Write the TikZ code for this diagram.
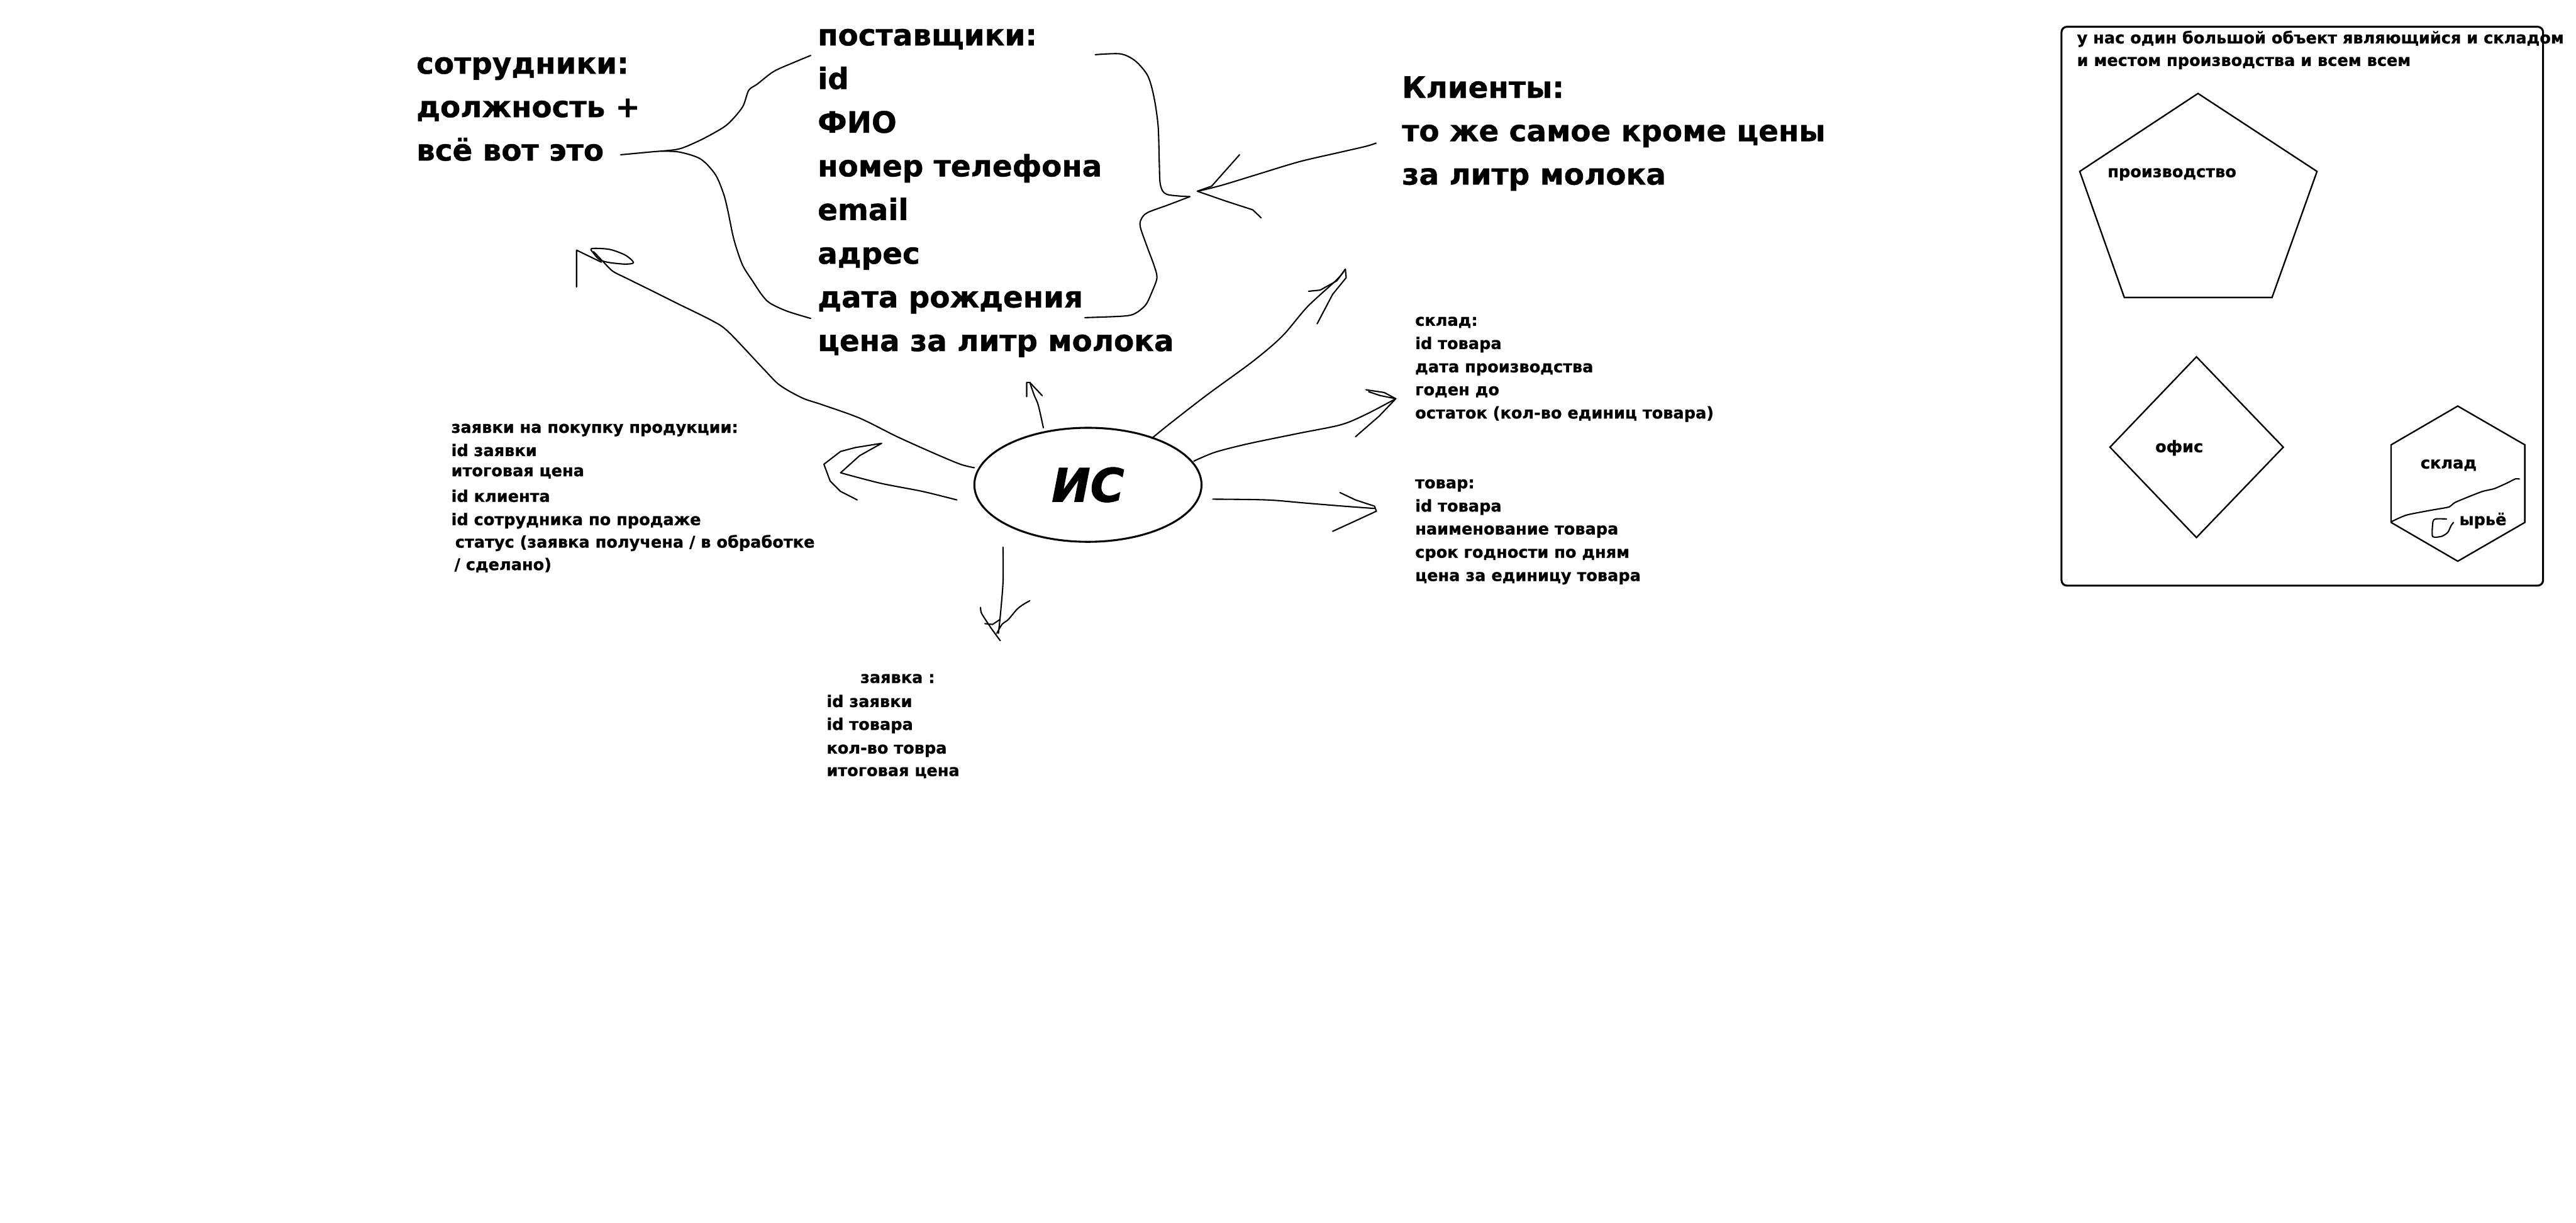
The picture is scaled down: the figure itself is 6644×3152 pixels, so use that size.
\documentclass[tikz,border=0pt]{standalone}
\usepackage{fontspec}
\setmainfont{DejaVu Sans}[BoldFeatures={FakeBold=0.8}]
\newfontfamily\heavyfont{DejaVu Sans}[BoldItalicFeatures={FakeBold=1.6}]
\usetikzlibrary{shapes.geometric}
\tikzset{
  txtbig/.style={anchor=base west, inner sep=0pt, font=\fontsize{7.6pt}{11.26pt}\selectfont\bfseries},
  txtsmall/.style={anchor=base west, inner sep=0pt, font=\fontsize{4.15pt}{6pt}\selectfont\bfseries},
  pen/.style={line width=0.34pt, line cap=round, line join=round},
  figline/.style={line width=0.38pt, line join=miter},
}
\begin{document}
\begin{tikzpicture}[x=0.1pt, y=-0.1pt]
\fill[white] (0,0) rectangle (6644,3152);
\useasboundingbox (0,0) rectangle (6644,3152);

% ---------- employees
\node[txtbig] (emp1) at (1072,190) {сотрудники:};
\node[txtbig] (emp2) at (1072,302) {должность +};
\node[txtbig] (emp3) at (1072,414) {всё вот это};

% ---------- suppliers
\node[txtbig] (sup1) at (2107,117) {поставщики:};
\node[txtbig] (sup2) at (2107,229.6) {id};
\node[txtbig] (sup3) at (2107,342.2) {ФИО};
\node[txtbig] (sup4) at (2107,454.8) {номер телефона};
\node[txtbig] (sup5) at (2107,567.4) {email};
\node[txtbig] (sup6) at (2107,680) {адрес};
\node[txtbig] (sup7) at (2107,792.6) {дата рождения};
\node[txtbig] (sup8) at (2107,905.2) {цена за литр молока};

% ---------- clients
\node[txtbig] (cli1) at (3614,252) {Клиенты:};
\node[txtbig] (cli2) at (3614,364) {то же самое кроме цены};
\node[txtbig] (cli3) at (3614,476) {за литр молока};

% ---------- warehouse
\node[txtsmall] (skl1) at (3648,840) {склад:};
\node[txtsmall] (skl2) at (3648,900) {id товара};
\node[txtsmall] (skl3) at (3648,960) {дата производства};
\node[txtsmall] (skl4) at (3648,1019) {годен до};
\node[txtsmall] (skl5) at (3648,1079) {остаток (кол-во единиц товара)};

% ---------- goods
\node[txtsmall] (tov1) at (3648,1259) {товар:};
\node[txtsmall] (tov2) at (3648,1319) {id товара};
\node[txtsmall] (tov3) at (3648,1378) {наименование товара};
\node[txtsmall] (tov4) at (3648,1438) {срок годности по дням};
\node[txtsmall] (tov5) at (3648,1498) {цена за единицу товара};

% ---------- purchase requests
\node[txtsmall] (zp1) at (1162,1116) {заявки на покупку продукции:};
\node[txtsmall] (zp2) at (1162,1176) {id заявки};
\node[txtsmall] (zp3) at (1162,1228) {итоговая цена};
\node[txtsmall] (zp4) at (1162,1294) {id клиента};
\node[txtsmall] (zp5) at (1162,1354) {id сотрудника по продаже};
\node[txtsmall] (zp6) at (1172,1412) {статус (заявка получена / в обработке};
\node[txtsmall] (zp7) at (1170,1470) {/ сделано)};

% ---------- request
\node[txtsmall] (za1) at (2217,1761) {заявка :};
\node[txtsmall] (za2) at (2130,1823) {id заявки};
\node[txtsmall] (za3) at (2130,1882) {id товара};
\node[txtsmall] (za4) at (2130,1943) {кол-во товра};
\node[txtsmall] (za5) at (2130,2001) {итоговая цена};

% ---------- central ellipse
\node[ellipse, draw, line width=0.5pt, minimum width=58.6pt, minimum height=29.4pt, inner sep=0pt,
      font=\fontsize{11.9pt}{12pt}\selectfont\heavyfont\bfseries\itshape] (is) at (2806,1250) {ИС};

% ---------- left brace
\draw[pen] plot[smooth, tension=0.5] coordinates {(1601,399) (1676,392) (1747,385) (1790,369) (1834,347) (1877,320) (1915,276) (1931,233) (1953,217) (1996,184) (2050,160) (2091,143)};
\draw[pen] plot[smooth, tension=0.5] coordinates {(1705,390) (1752,392) (1807,410) (1845,450) (1866,499) (1877,542) (1893,618) (1915,683) (1942,726) (1964,759) (1985,781) (2029,802) (2091,821)};

% ---------- right brace
\draw[pen] plot[smooth, tension=0.5] coordinates {(2825,141) (2890,139) (2928,157) (2960,195) (2976,249) (2987,325) (2990,420) (2993,477) (3009,501) (3069,507)};
\draw[pen] plot[smooth, tension=0.5] coordinates {(3069,507) (3014,528) (2960,548) (2944,564) (2941,585) (2960,640) (2976,683) (2984,716) (2971,753) (2955,786) (2928,808) (2898,815) (2798,819)};

% ---------- arrow from clients to the brace
\draw[pen] plot[smooth, tension=0.5] coordinates {(3549,369) (3524,377) (3459,392) (3351,417) (3242,450) (3150,478) (3090,493)};
\draw[pen] (3197,399) -- (3125,480) -- (3088,493) -- (3160,518) -- (3231,541) -- (3253,562);

% ---------- arrow up-right
\draw[pen] plot[smooth, tension=0.5] coordinates {(2971,1130) (3014,1095) (3112,1019) (3231,932) (3307,867) (3372,791) (3448,721) (3470,694)};
\draw[pen] (3375,751) -- (3405,748) -- (3448,724) -- (3470,694);
\draw[pen] (3397,835) -- (3437,759) -- (3472,716) -- (3470,694);

% ---------- arrow to warehouse
\draw[pen] plot[smooth, tension=0.5] coordinates {(3079,1189) (3134,1166) (3220,1144) (3351,1117) (3459,1095) (3524,1068) (3600,1028)};
\draw[pen] (3523,1005) -- (3570,1012) -- (3600,1028) -- (3560,1020) -- (3530,1010);
\draw[pen] (3600,1028) -- (3557,1073) -- (3496,1126);

% ---------- arrow to goods
\draw[pen] plot[smooth, tension=0.5] coordinates {(3128,1287) (3268,1289) (3366,1297) (3464,1305) (3545,1311)};
\draw[pen] (3456,1270) -- (3496,1289) -- (3545,1305) -- (3550,1318) -- (3496,1343) -- (3437,1370);

% ---------- arrow up
\draw[pen] plot[smooth, tension=0.5] coordinates {(2691,1103) (2678,1045) (2667,1018) (2656,986)};
\draw[pen] (2648,1023) -- (2648,986) -- (2656,986) -- (2688,1020);

% ---------- arrow down
\draw[pen] plot[smooth, tension=0.5] coordinates {(2587,1411) (2587,1500) (2580,1587) (2575,1633)};
\draw[pen] plot[smooth, tension=0.5] coordinates {(2529,1566) (2531,1580) (2542,1598) (2558,1622) (2580,1652)};
\draw[pen] plot[smooth, tension=0.5] coordinates {(2656,1549) (2640,1558) (2623,1571) (2600,1598) (2585,1609) (2571,1633)};
\draw[pen] (2540,1608) -- (2560,1610) -- (2578,1598);

% ---------- arrow left
\draw[pen] plot[smooth, tension=0.5] coordinates {(2468,1289) (2379,1267) (2271,1246) (2168,1219)};
\draw[pen] (2168,1219) -- (2217,1175) -- (2274,1143) -- (2206,1154) -- (2168,1164) -- (2125,1197) -- (2141,1240) -- (2168,1267) -- (2211,1289);

% ---------- long curve to the flag
\draw[pen] plot[smooth, tension=0.5] coordinates {(2513,1206) (2477,1197) (2412,1170) (2314,1126) (2217,1078) (2119,1043) (2069,1026) (2011,993) (1970,952) (1879,856) (1837,827) (1746,782) (1680,749) (1613,716) (1580,699) (1555,674) (1531,649)};
\draw[pen] (1487,740) -- (1487,645) -- (1551,676);
\draw[pen] plot[smooth cycle, tension=0.5] coordinates {(1526,641) (1572,643) (1613,658) (1634,677) (1613,681) (1572,677) (1547,670) (1531,653)};

% ---------- right box
\draw[line width=0.5pt, rounded corners=1.4pt] (5317,69) rectangle (6559,1510);
\node[txtsmall] (obj1) at (5355,112) {у нас один большой объект являющийся и складом};
\node[txtsmall] (obj2) at (5355,170) {и местом производства и всем всем};

% pentagon
\draw[figline] (5669,241) -- (5976,442) -- (5860,767) -- (5479,767) -- (5364,442) -- cycle;
\node[txtsmall] (prod) at (5434,457) {производство};

% diamond
\draw[figline] (5665,920) -- (5889,1153) -- (5665,1386) -- (5442,1153) -- cycle;
\node[txtsmall] (ofis) at (5557,1166) {офис};

% hexagon
\draw[figline] (6339,1047) -- (6512,1147) -- (6512,1347) -- (6339,1447) -- (6167,1347) -- (6167,1147) -- cycle;
\node[txtsmall] (hskl) at (6241,1208) {склад};
\node[txtsmall] (syr) at (6341,1354) {ырьё};
\draw[pen] plot[smooth, tension=0.4] coordinates {(6168,1345) (6207,1328) (6273,1315) (6317,1307) (6333,1295) (6400,1268) (6433,1260) (6467,1245) (6487,1235) (6498,1235)};
\draw[pen] plot[smooth, tension=0.4] coordinates {(6310,1338) (6282,1338) (6275,1345) (6274,1383) (6297,1383) (6313,1373) (6322,1355) (6328,1347)};
\end{tikzpicture}
\end{document}
